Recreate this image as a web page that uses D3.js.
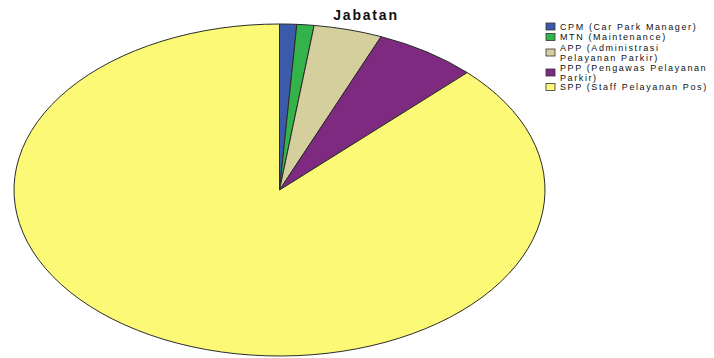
<!DOCTYPE html>
<html>
<head>
<meta charset="utf-8">
<script src="https://cdn.jsdelivr.net/npm/d3@7"></script>
<style>
  body { margin: 0; background: #fff; }
  text { font-family: "Liberation Sans", Arial, sans-serif; }
</style>
</head>
<body>
<div id="chart"></div>
<script>
// data (counts per position)
const categories = ["CPM (Car Park Manager)", "MTN (Maintenance)", "APP (Administrasi Pelayanan Parkir)",
  "PPP (Pengawas Pelayanan Parkir)", "SPP (Staff Pelayanan Pos)"];
// legend lines as wrapped in the picture
const legendLines = [["CPM (Car Park Manager)"], ["MTN (Maintenance)"], ["APP (Administrasi", "Pelayanan Parkir)"],
  ["PPP (Pengawas Pelayanan", "Parkir)"], ["SPP (Staff Pelayanan Pos)"]];
const counts = [1, 1, 4, 6, 84];
const colors = ["#3c5aab", "#34b34a", "#d5cf9e", "#7d2a80", "#fcf976"];

const width = 714, height = 358;
const cx = 279.5, cy = 190, rx = 265.5, ry = 166;
const lineGap = 10;

const svg = d3.select("#chart").append("svg")
  .attr("width", width)
  .attr("height", height);

svg.append("text")
  .attr("x", 366)
  .attr("y", 20)
  .attr("text-anchor", "middle")
  .style("font-size", "14px")
  .style("font-weight", "bold")
  .style("letter-spacing", "1.8px")
  .attr("fill", "#111")
  .text("Jabatan");

const pie = d3.pie().sort(null).value(d => d);
const arc = d3.arc().innerRadius(0).outerRadius(ry);

// draw as a circle and stretch it to the ellipse
const g = svg.append("g")
  .attr("transform", `translate(${cx},${cy}) scale(${rx / ry},1)`);

g.selectAll("path")
  .data(pie(counts))
  .enter()
  .append("path")
  .attr("d", arc)
  .attr("fill", (d, i) => colors[i])
  .attr("stroke", "#2b2b2b")
  .attr("stroke-width", 1)
  .attr("vector-effect", "non-scaling-stroke");

// legend, rowY = centre of first text line
const rowY = [26.5, 37, 47.5, 67.5, 87];
const leg = svg.append("g");
const item = leg.selectAll("g")
  .data(categories)
  .enter()
  .append("g")
  .attr("transform", (d, i) => `translate(0,${rowY[i]})`);

item.append("rect")
  .attr("x", 546)
  .attr("y", (d, i) => (legendLines[i].length - 1) * lineGap / 2 - 3.5)
  .attr("width", 9)
  .attr("height", 7)
  .attr("fill", (d, i) => colors[i])
  .attr("stroke", "#333")
  .attr("stroke-width", 0.8);

item.each(function(d, i) {
  const t = d3.select(this).append("text")
    .attr("x", 560)
    .attr("y", 3.2)
    .style("font-size", "9px")
    .style("letter-spacing", "1.6px")
    .attr("fill", "#111");
  legendLines[i].forEach((line, j) => {
    t.append("tspan")
      .attr("x", 560)
      .attr("dy", j === 0 ? 0 : lineGap)
      .text(line);
  });
});
</script>
</body>
</html>
